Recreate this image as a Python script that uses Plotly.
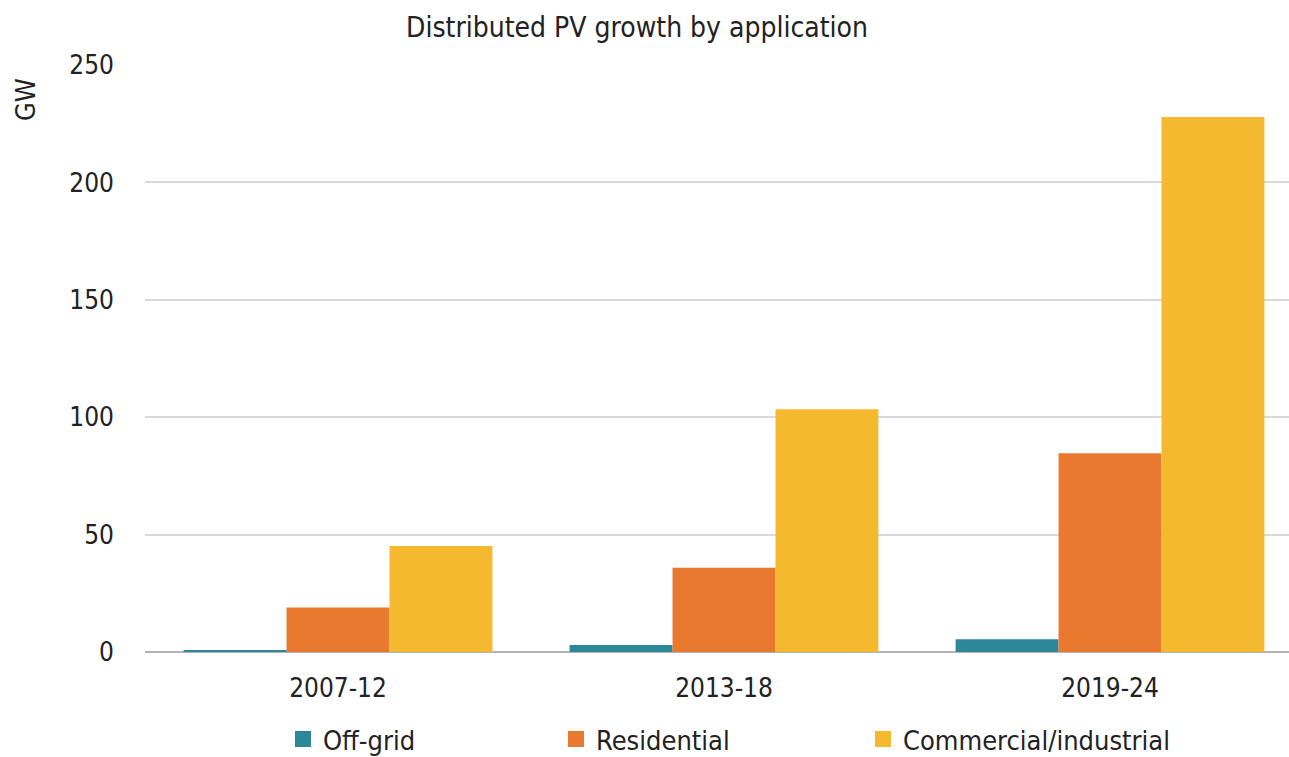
import plotly.graph_objects as go

# Distributed PV additions (GW) per period and application
periods = ["2007-12", "2013-18", "2019-24"]
off_grid = [0.7, 3.0, 5.4]
residential = [19.0, 35.9, 84.6]
commercial = [45.1, 103.4, 227.9]

series_names = ["Off-grid", "Residential", "Commercial/industrial"]
series_values = [off_grid, residential, commercial]
series_colors = ["#2D879B", "#E8792F", "#F5B930"]

y_ticks = [0, 50, 100, 150, 200, 250]

FONT = "DejaVu Sans Condensed, Liberation Sans Narrow, sans-serif"
TEXT = "#222222"

fig = go.Figure()

legend_ids = ["legend", "legend2", "legend3"]
for name, vals, color, lg in zip(series_names, series_values, series_colors, legend_ids):
    fig.add_trace(go.Bar(
        x=periods, y=vals, name=name,
        marker=dict(color=color, line=dict(width=0)),
        showlegend=False,
    ))
    # legend entry with a larger square swatch
    fig.add_trace(go.Scatter(
        x=[None], y=[None], mode="markers", name=name,
        marker=dict(symbol="square", size=16, color=color),
        legend=lg, showlegend=True,
    ))

legend_style = dict(
    orientation="h", yanchor="middle", xanchor="left",
    y=-0.149, font=dict(family=FONT, size=27, color=TEXT),
    bgcolor="rgba(0,0,0,0)", itemsizing="trace",
)

fig.update_layout(
    width=1289, height=757,
    margin=dict(l=145, r=0, t=65, b=105, autoexpand=False),
    paper_bgcolor="white", plot_bgcolor="white",
    barmode="group", bargap=0.2, bargroupgap=0,
    font=dict(family=FONT, color=TEXT),
    title=dict(
        text="Distributed PV growth by application",
        x=637 / 1289, xanchor="center", y=1 - 27 / 757, yanchor="middle",
        font=dict(family=FONT, size=28, color=TEXT),
    ),
    xaxis=dict(
        type="category", categoryorder="array", categoryarray=periods,
        range=[-0.5, 2.4637], showgrid=False, showline=False,
        ticks="", tickfont=dict(family=FONT, size=26, color=TEXT),
        ticklabelstandoff=18,
    ),
    yaxis=dict(
        range=[0, 250], tickvals=y_ticks,
        showgrid=True, gridcolor="#D9D9D9", gridwidth=2,
        zeroline=True, zerolinecolor="#B3B3B3", zerolinewidth=2,
        showline=False, ticks="",
        tickfont=dict(family=FONT, size=26, color=TEXT),
        ticklabelstandoff=30,
    ),
    legend=dict(x=(283 - 145) / 1144, **legend_style),
    legend2=dict(x=(556 - 145) / 1144, **legend_style),
    legend3=dict(x=(863 - 145) / 1144, **legend_style),
    annotations=[dict(
        text="GW", textangle=-90, showarrow=False,
        xref="paper", yref="paper",
        x=(25 - 145) / 1144, y=1 - (100 - 65) / 587,
        xanchor="center", yanchor="middle",
        font=dict(family=FONT, size=27, color=TEXT),
    )],
)

fig.write_html("out.html")
